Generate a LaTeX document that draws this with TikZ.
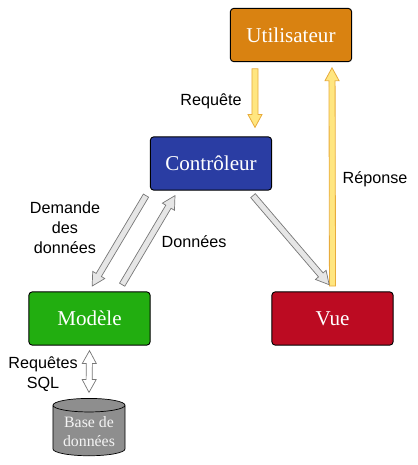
\documentclass[tikz,border=0pt]{standalone}
\usepackage{fontspec}
\setmainfont{Liberation Sans}
\newfontfamily\boxfont{Liberation Serif}
\usetikzlibrary{calc}
\usetikzlibrary{shapes.geometric, positioning}
\definecolor{orangebox}{HTML}{D98211}
\definecolor{bluebox}{HTML}{2A3DA3}
\definecolor{greenbox}{HTML}{22AE10}
\definecolor{redbox}{HTML}{BC0B22}
\definecolor{greybox}{HTML}{8E8E8E}
\definecolor{yellowfill}{HTML}{FFE680}
\definecolor{yellowline}{HTML}{E8AC3C}
\definecolor{greyfill}{HTML}{E6E6E6}
\definecolor{greyline}{HTML}{777777}
\tikzset{
  mvcbox/.style={draw=black, line width=0.8pt, rounded corners=3pt, minimum width=3.64cm, minimum height=1.6cm, text=white, font=\boxfont\fontsize{18}{20}\selectfont},
  lbl/.style={align=center, font=\fontsize{13.8}{17}\selectfont},
  yellowarrow/.style={fill=yellowfill, draw=yellowline, line width=0.7pt, line join=miter},
  greyarrow/.style={fill=greyfill, draw=greyline, line width=0.6pt, line join=miter},
  whitearrow/.style={fill=white, draw=greyline, line width=0.6pt, line join=miter}
}
\newcommand{\blockarrow}[3]{ % #1: style, #2: start, #3: end
  \coordinate (s) at #2;
  \coordinate (e) at #3;
  \coordinate (h) at ($(e)!11pt!(s)$); % base of the head
  \draw[#1] ($(s)!2.6pt!90:(e)$) -- ($(h)!2.6pt!-90:(s)$) -- ($(h)!6pt!-90:(s)$) -- (e)
    -- ($(h)!6pt!90:(s)$) -- ($(h)!2.6pt!90:(s)$) -- ($(s)!2.6pt!-90:(e)$) -- cycle;
}
\newcommand{\doublearrow}[3]{ % #1: style, #2: one end, #3: other end
  \coordinate (s) at #2;
  \coordinate (e) at #3;
  \coordinate (h) at ($(e)!11pt!(s)$);
  \coordinate (g) at ($(s)!11pt!(e)$);
  \draw[#1] (s) -- ($(g)!6pt!90:(e)$) -- ($(g)!2.6pt!90:(e)$) -- ($(h)!2.6pt!-90:(s)$) -- ($(h)!6pt!-90:(s)$) -- (e)
    -- ($(h)!6pt!90:(s)$) -- ($(h)!2.6pt!90:(s)$) -- ($(g)!2.6pt!-90:(e)$) -- ($(g)!6pt!-90:(e)$) -- cycle;
}
\begin{document}
\begin{tikzpicture}[x=0.03cm, y=-0.03cm]
\useasboundingbox (0,0) rectangle (418,465);

% Boxes
\node[mvcbox, fill=orangebox] (user) at (291,35) {Utilisateur};
\node[mvcbox, fill=bluebox] (ctrl) at (211,163.5) {Contrôleur};
\node[mvcbox, fill=greenbox] (model) at (89.5,318.5) {Modèle};
\node[mvcbox, fill=redbox] (view) at (332.5,318.5) {Vue};

% Database
\node[cylinder, shape border rotate=90, aspect=0.25, draw=black, line width=0.6pt, fill=greybox, minimum width=2.16cm, minimum height=1.72cm, inner sep=1pt, align=center, text=white!90!greybox, font=\boxfont\fontsize{13.5}{16}\selectfont] (db) at (89,431.5) {Base de\\données};

% Yellow arrows
\blockarrow{yellowarrow}{([xshift=-1.08cm,yshift=-0.2cm]user.south)}{([xshift=1.32cm,yshift=0.27cm]ctrl.north)}
\blockarrow{yellowarrow}{([yshift=0.16cm]view.north)}{([xshift=1.23cm,yshift=-0.17cm]user.south)}

% Grey arrows
\blockarrow{greyarrow}{([xshift=-1.95cm,yshift=-0.15cm]ctrl.south)}{([xshift=0.08cm,yshift=0.16cm]model.north)}
\blockarrow{greyarrow}{([xshift=0.98cm,yshift=0.2cm]model.north)}{([xshift=-1.08cm,yshift=-0.15cm]ctrl.south)}
\blockarrow{greyarrow}{([xshift=1.26cm,yshift=-0.15cm]ctrl.south)}{([xshift=-0.1cm,yshift=0.2cm]view.north)}

% Double arrow to the database
\doublearrow{whitearrow}{([yshift=-0.15cm]model.south)}{([yshift=0.17cm]db.north)}

% Labels
\node[lbl] (req) at (211,101) {Requête};
\node[lbl] (rep) at (375,179) {Réponse};
\node[lbl] (dem) at (65,228) {Demande\\des\\données};
\node[lbl] (don) at (194,242) {Données};
\node[lbl] (sql) at (43,374) {Requêtes\\SQL};

\end{tikzpicture}
\end{document}
